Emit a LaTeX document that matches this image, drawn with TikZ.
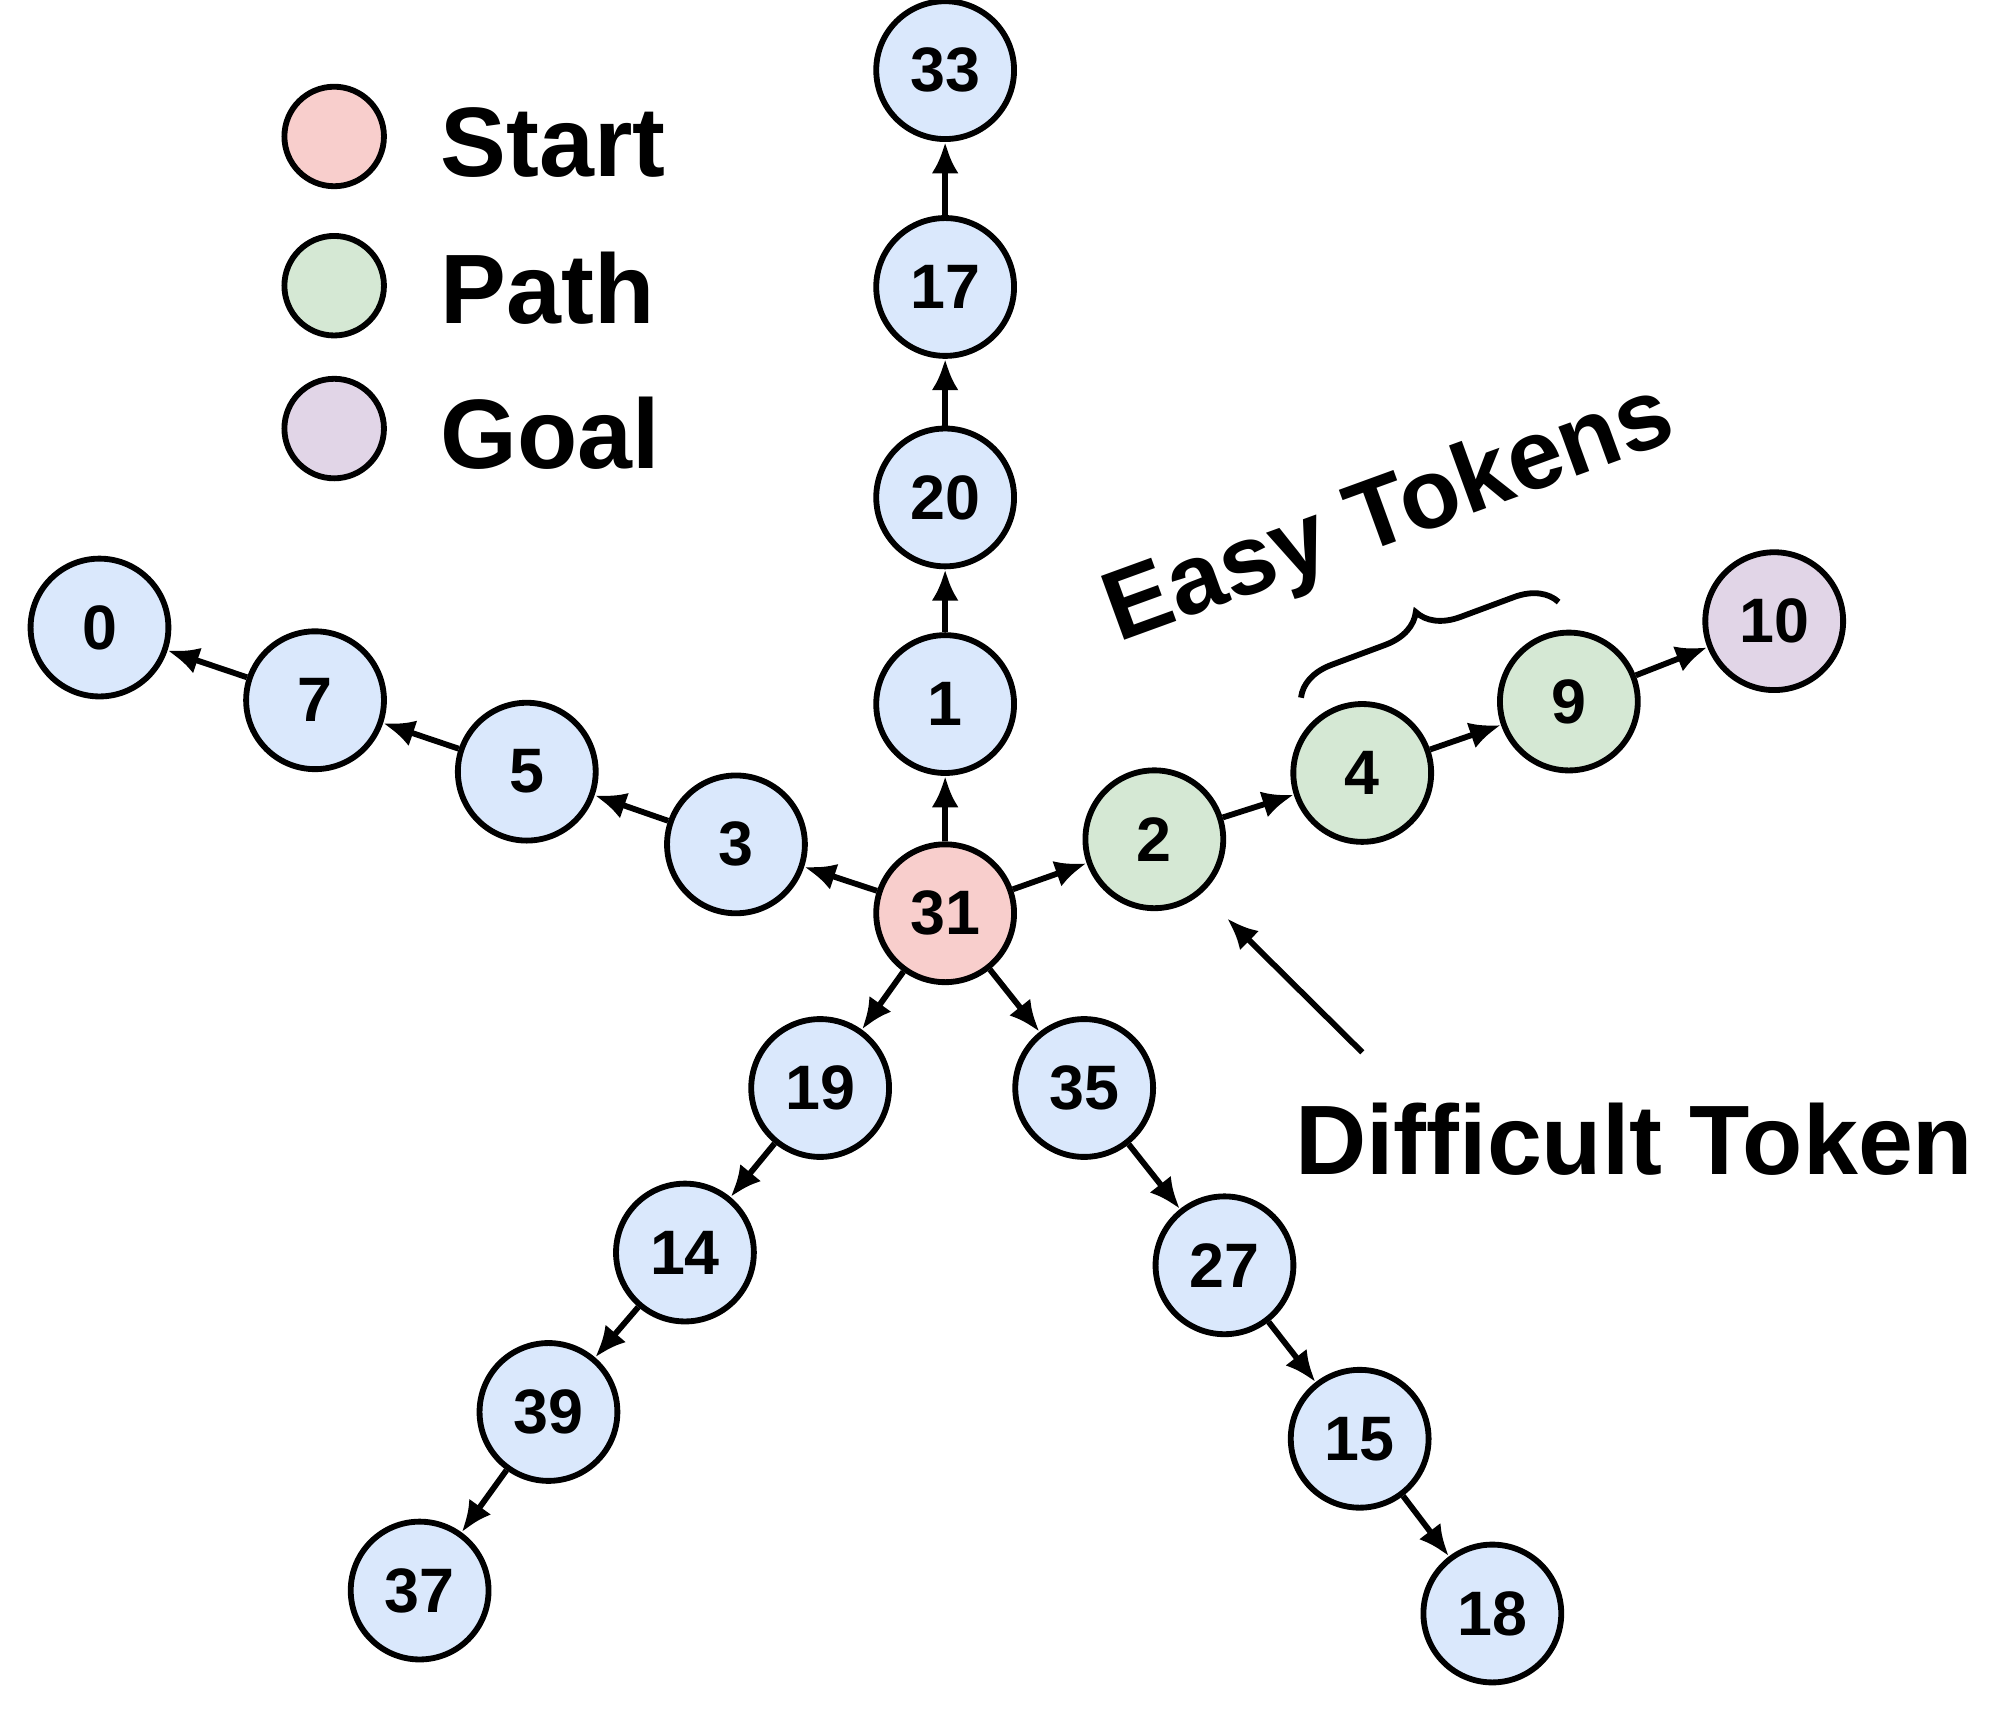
\documentclass[tikz,border=0pt]{standalone}
\usepackage{fontspec}
\setmainfont{Liberation Sans}
\usetikzlibrary{arrows.meta,decorations.pathreplacing}
\definecolor{nb}{HTML}{DAE8FC}
\definecolor{ng}{HTML}{D5E8D4}
\definecolor{np}{HTML}{F8CECC}
\definecolor{nv}{HTML}{E1D5E7}
\begin{document}
\begin{tikzpicture}[x=0.01cm,y=-0.01cm,
  n/.style={circle,draw,line width=1.3pt,minimum size=1.08cm,inner sep=0pt,font=\fontsize{14}{14}\selectfont\bfseries,fill=nb},
  lg/.style={circle,draw,line width=1.3pt,minimum size=0.78cm,inner sep=0pt},
  big/.style={font=\fontsize{22}{22}\selectfont\bfseries},
  a/.style={line width=1.3pt,-{Latex[length=7pt,width=6pt]}}]
\useasboundingbox (0,0) rectangle (1568,1361);
\node[n] (n33) at (741,55) {33};
\node[n] (n17) at (741,225) {17};
\node[n] (n20) at (741,390) {20};
\node[n] (n1) at (741,552) {1};
\node[n,fill=np] (n31) at (741,716) {31};
\node[n,fill=ng] (n2) at (905,658) {2};
\node[n,fill=ng] (n4) at (1068,606) {4};
\node[n,fill=ng] (n9) at (1230,550) {9};
\node[n,fill=nv] (n10) at (1391,487) {10};
\node[n] (n3) at (577,662) {3};
\node[n] (n5) at (413,605) {5};
\node[n] (n7) at (247,549) {7};
\node[n] (n0) at (78,492) {0};
\node[n] (n19) at (643,853) {19};
\node[n] (n14) at (537,982) {14};
\node[n] (n39) at (430,1107) {39};
\node[n] (n37) at (329,1247) {37};
\node[n] (n35) at (850,853) {35};
\node[n] (n27) at (960,992) {27};
\node[n] (n15) at (1066,1128) {15};
\node[n] (n18) at (1170,1265) {18};
\foreach \u/\v in {31/1,1/20,20/17,17/33,31/2,2/4,4/9,9/10,31/3,3/5,5/7,7/0,31/19,19/14,14/39,39/37,31/35,35/27,27/15,15/18}
  \draw[a] (n\u) -- (n\v);
\node[lg,fill=np] (l1) at (262,107) {};
\node[lg,fill=ng] (l2) at (262,224) {};
\node[lg,fill=nv] (l3) at (262,336) {};
\node[anchor=west,big] (t1) at (333,112) {Start};
\node[anchor=west,big] (t2) at (333,226) {Path};
\node[anchor=west,big] (t3) at (333,340) {Goal};
\node[big,rotate=20] (easy) at (1090,405) {Easy Tokens};
\coordinate (b1) at (1020,547);
\coordinate (b2) at (1222,472);
\draw[line width=1.3pt,decorate,decoration={brace,amplitude=9pt}] (b1) -- (b2);
\node[anchor=west,big] (diff) at (1003,893) {Difficult Token};
\coordinate (dt) at (1068,825);
\coordinate (dh) at (962,720);
\draw[a] (dt) -- (dh);
\end{tikzpicture}
\end{document}
